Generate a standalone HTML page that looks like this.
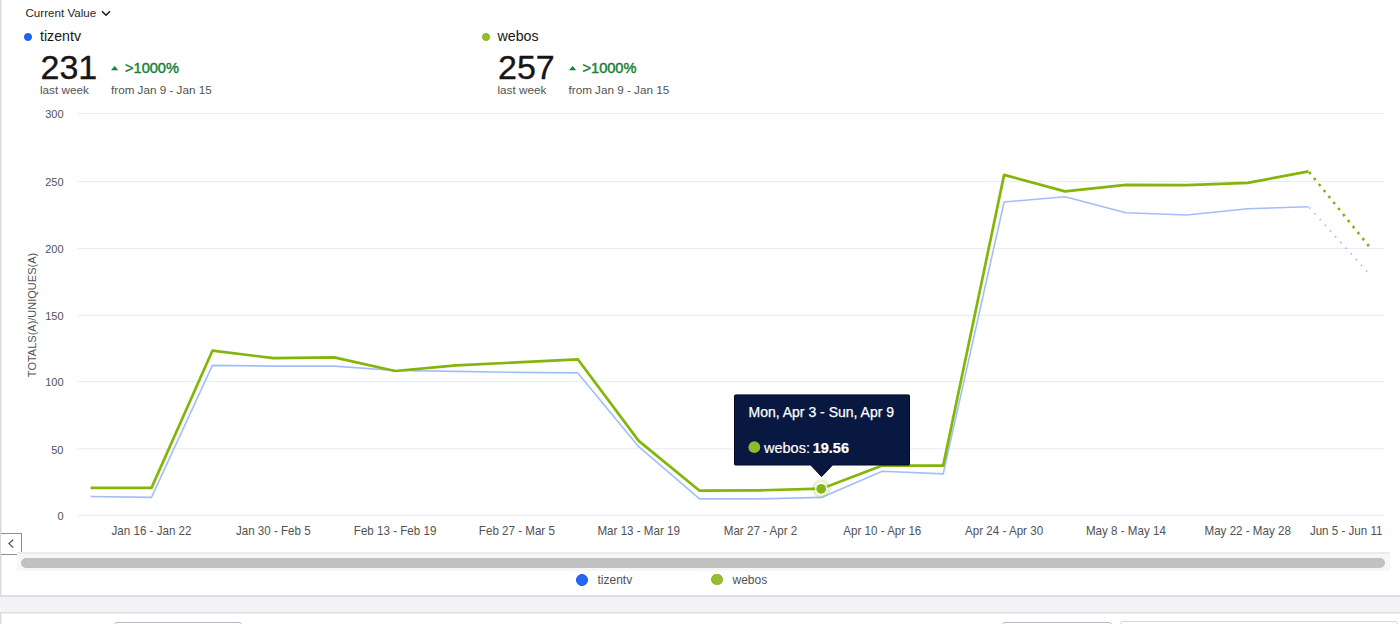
<!DOCTYPE html>
<html><head><meta charset="utf-8">
<style>
*{margin:0;padding:0;box-sizing:border-box}
html,body{width:1400px;height:624px;overflow:hidden;background:#fff;font-family:"Liberation Sans",sans-serif;color:#161616}
.abs{position:absolute;white-space:nowrap;line-height:1}
#lb{position:absolute;left:0;top:0;width:2px;height:596px;background:#f2f2f5;border-left:1px solid #d6d7dd}
.cv{left:25.5px;top:7px;font-size:11.6px;color:#262626}
.dot{position:absolute;border-radius:50%}
.grp{position:absolute;top:0;width:400px;height:100px}
.nm{font-size:14.2px;color:#161616}
.big{font-size:34px;color:#161616;-webkit-text-stroke:0.35px #161616}
.pct{font-size:14.6px;color:#198038;-webkit-text-stroke:0.45px #198038}
.sub{font-size:11.7px;color:#525252}
.yl{font-size:11px;color:#525252;text-align:right;width:30px}
.xl{font-size:11.6px;color:#525252}
.lg{font-size:12px;color:#525252}
</style></head><body>
<div id="lb"></div>
<div class="abs cv">Current Value</div>
<svg class="abs" style="left:101px;top:10px" width="10" height="7" viewBox="0 0 10 7"><path d="M1 1.2 L5 5.2 L9 1.2" fill="none" stroke="#161616" stroke-width="1.5"/></svg>

<div class="grp" style="left:0">
<div class="dot" style="left:24.4px;top:33.1px;width:7.8px;height:7.8px;background:#2063f2;border:1px solid #1257f5"></div>
<div class="abs nm" style="left:40px;top:29px">tizentv</div>
<div class="abs big" style="left:40.5px;top:50px">231</div>
<svg class="abs" style="left:111px;top:66px" width="8" height="5"><path d="M0 4.2 L3.65 0.1 L7.3 4.2Z" fill="#198038"/></svg>
<div class="abs pct" style="left:125px;top:60.7px">&gt;1000%</div>
<div class="abs sub" style="left:40px;top:83.7px">last week</div>
<div class="abs sub" style="left:111px;top:83.7px">from Jan 9 - Jan 15</div>
</div>
<div class="grp" style="left:457.5px">
<div class="dot" style="left:24.4px;top:33.1px;width:7.8px;height:7.8px;background:#92bd30;border:1px solid #84b50c"></div>
<div class="abs nm" style="left:40px;top:29px">webos</div>
<div class="abs big" style="left:40.5px;top:50px">257</div>
<svg class="abs" style="left:111px;top:66px" width="8" height="5"><path d="M0 4.2 L3.65 0.1 L7.3 4.2Z" fill="#198038"/></svg>
<div class="abs pct" style="left:125px;top:60.7px">&gt;1000%</div>
<div class="abs sub" style="left:40px;top:83.7px">last week</div>
<div class="abs sub" style="left:111px;top:83.7px">from Jan 9 - Jan 15</div>
</div>

<!-- y labels -->
<div class="abs yl" style="left:33.5px;top:109.3px">300</div>
<div class="abs yl" style="left:33.5px;top:177.3px">250</div>
<div class="abs yl" style="left:33.5px;top:244.1px">200</div>
<div class="abs yl" style="left:33.5px;top:311.0px">150</div>
<div class="abs yl" style="left:33.5px;top:377.3px">100</div>
<div class="abs yl" style="left:33.5px;top:444.5px">50</div>
<div class="abs yl" style="left:33.5px;top:511.0px">0</div>
<div class="abs" style="left:31.8px;top:314.5px;font-size:11px;color:#525252;transform:translate(-50%,-50%) rotate(-90deg)">TOTALS(A)/UNIQUES(A)</div>

<svg class="abs" style="left:0;top:0" width="1400" height="624">
<g stroke="#dfe3ea" stroke-width="1" stroke-dasharray="1.5,0.5">
<line x1="78" y1="113.6" x2="1384" y2="113.6"/>
<line x1="78" y1="181.6" x2="1384" y2="181.6"/>
<line x1="78" y1="248.4" x2="1384" y2="248.4"/>
<line x1="78" y1="315.3" x2="1384" y2="315.3"/>
<line x1="78" y1="381.6" x2="1384" y2="381.6"/>
<line x1="78" y1="448.8" x2="1384" y2="448.8"/>
<line x1="78" y1="515.3" x2="1384" y2="515.3"/>
</g>
<polyline fill="none" stroke="#a2befa" stroke-width="1.6" stroke-linejoin="round" points="90.6,496.5 151.5,497.4 212.4,365.4 273.3,366.1 334.2,366.1 395.1,370.5 456.0,371.4 516.9,372.4 577.8,372.9 638.7,446.7 699.6,498.9 760.5,498.9 821.4,497.4 882.3,471.2 943.2,473.9 1004.1,202.0 1065.0,196.8 1125.9,212.7 1186.8,215.0 1247.7,208.8 1308.6,206.7"/>
<polyline fill="none" stroke="#a2befa" stroke-width="1.7" stroke-dasharray="1.6,6.12" stroke-dashoffset="6.67" points="1308.6,206.7 1369.5,274.3"/>
<polyline fill="none" stroke="#83b50b" stroke-width="2.7" stroke-linejoin="round" points="90.6,487.9 151.5,487.9 212.4,350.7 273.3,358.1 334.2,357.4 395.1,371.0 456.0,365.3 516.9,362.4 577.8,359.3 638.7,440.9 699.6,490.7 760.5,490.3 821.4,488.7 882.3,465.5 943.2,465.6 1004.1,174.9 1065.0,191.4 1125.9,184.8 1186.8,185.2 1247.7,182.9 1308.6,171.3"/>
<polyline fill="none" stroke="#83b50b" stroke-width="2.6" stroke-dasharray="2.6,5.12" stroke-dashoffset="6.88" points="1308.6,171.3 1369.5,246.9"/>
<circle cx="821.2" cy="488.8" r="9.5" fill="#8ab82a" fill-opacity="0.2"/>
<circle cx="821.2" cy="488.8" r="6.2" fill="#fff"/>
<circle cx="821.2" cy="488.8" r="4.9" fill="#86b71a"/>
<!-- tooltip -->
<path d="M735.5 394.9 H908.5 Q909.5 394.9 909.5 395.9 V464 Q909.5 465 908.5 465 H832.6 L821.6 476.6 L810.6 465 H735.5 Q734.5 465 734.5 464 V395.9 Q734.5 394.9 735.5 394.9Z" fill="#081840" stroke="#030a26" stroke-width="1"/>
<circle cx="754.3" cy="447.2" r="5.9" fill="#8bbc2e"/>
</svg>
<div class="abs" style="left:748.5px;top:405.1px;font-size:14px;color:#fff;-webkit-text-stroke:0.25px #fff">Mon, Apr 3 - Sun, Apr 9</div>
<div class="abs" style="left:764px;top:441px;font-size:14.5px;color:#fff;-webkit-text-stroke:0.2px #fff">webos: <b style="margin-left:-1.3px">19.56</b></div>

<!-- x labels -->
<div class="abs xl" style="left:151.5px;top:525.3px;transform:translateX(-50%) scaleY(1.06)">Jan 16 - Jan 22</div>
<div class="abs xl" style="left:273.3px;top:525.3px;transform:translateX(-50%) scaleY(1.06)">Jan 30 - Feb 5</div>
<div class="abs xl" style="left:395.1px;top:525.3px;transform:translateX(-50%) scaleY(1.06)">Feb 13 - Feb 19</div>
<div class="abs xl" style="left:516.9px;top:525.3px;transform:translateX(-50%) scaleY(1.06)">Feb 27 - Mar 5</div>
<div class="abs xl" style="left:638.7px;top:525.3px;transform:translateX(-50%) scaleY(1.06)">Mar 13 - Mar 19</div>
<div class="abs xl" style="left:760.5px;top:525.3px;transform:translateX(-50%) scaleY(1.06)">Mar 27 - Apr 2</div>
<div class="abs xl" style="left:882.3px;top:525.3px;transform:translateX(-50%) scaleY(1.06)">Apr 10 - Apr 16</div>
<div class="abs xl" style="left:1004.1px;top:525.3px;transform:translateX(-50%) scaleY(1.06)">Apr 24 - Apr 30</div>
<div class="abs xl" style="left:1125.9px;top:525.3px;transform:translateX(-50%) scaleY(1.06)">May 8 - May 14</div>
<div class="abs xl" style="left:1247.7px;top:525.3px;transform:translateX(-50%) scaleY(1.06)">May 22 - May 28</div>
<div class="abs xl" style="right:17.5px;top:525.3px;transform:scaleY(1.06)">Jun 5 - Jun 11</div>

<!-- scroll -->
<div class="abs" style="left:1px;top:533px;width:21px;height:22px;border:1px solid #8d909b;border-left:none;background:#fff"></div>
<svg class="abs" style="left:7px;top:538px" width="8" height="11"><path d="M6.2 1.7 L1.9 5.6 L6.2 9.5" fill="none" stroke="#4e505c" stroke-width="1.2"/></svg>
<div class="abs" style="left:17px;top:552px;width:1373px;height:19px;background:#f7f7f7;border-top:2px solid #ececec"></div>
<div class="abs" style="left:20.5px;top:557.5px;width:1364px;height:10px;border-radius:5px;background:#c1c1c1"></div>

<!-- legend -->
<div class="dot" style="left:575.9px;top:573.7px;width:12px;height:12px;background:#2767f0;border:1.2px solid #1257f5"></div>
<div class="abs lg" style="left:597.5px;top:574.2px">tizentv</div>
<div class="dot" style="left:711.4px;top:573.9px;width:11.6px;height:11.6px;background:#95be35;border:1.2px solid #84b50c"></div>
<div class="abs lg" style="left:732.5px;top:574.2px">webos</div>

<!-- bottom -->
<div class="abs" style="left:0;top:595px;width:1400px;height:18px;background:#f2f3f5;border-top:2px solid #dddee3;border-bottom:1px solid #dcdde2;box-shadow:0 1px 0 #f3f3f6"></div>
<div class="abs" style="left:0;top:613px;width:2px;height:11px;background:#f2f2f5;border-left:1px solid #d6d7dd"></div>
<div class="abs" style="left:114px;top:622px;width:128px;height:10px;border:1px solid #b8b8c0;border-radius:3px"></div>
<div class="abs" style="left:1001.5px;top:622px;width:110px;height:10px;border:1px solid #b8b8c0;border-radius:3px"></div>
<div class="abs" style="left:1120px;top:621px;width:277.5px;height:10px;border:1px solid #d4d4da;border-radius:3px"></div>
</body></html>
